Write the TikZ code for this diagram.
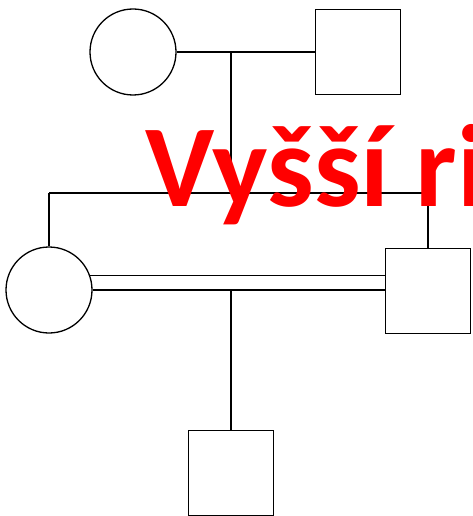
\documentclass[tikz,border=0pt]{standalone}
\usepackage{fontspec}
\newfontfamily\titlefont{Carlito}
\usepackage{tikz}

\begin{document}
\begin{tikzpicture}[x=1pt,y=1pt,
  female/.style={circle,draw,minimum size=86pt,inner sep=0pt},
  male/.style={rectangle,draw,minimum size=85pt,inner sep=0pt}]
\useasboundingbox (0,0) rectangle (472,-516);
\begin{scope}[line width=1.3pt]
\node[female] (GM) at (133,-52) {};
\node[male] (GF) at (358,-52) {};
\node[female] (M) at (49,-290) {};
\node[male] (F) at (428,-291) {};
\node[male] (C) at (231,-473) {};
\coordinate (U1) at (231,-52);
\coordinate (S) at (231,-193);
\coordinate (SL) at (49,-193);
\coordinate (SR) at (428,-193);
\coordinate (U2) at (231,-291);
\draw (GM) -- (GF);
\draw (U1) -- (S);
\draw (SL) -- (SR);
\draw (SL) -- (M);
\draw (SR) -- (F);
\draw (M.19) -- (F.west |- M.19);
\draw (M.east) -- (F.west |- M.east);
\draw (U2) -- (C);
\end{scope}
\node[anchor=base west,inner sep=0pt,text=red,font=\titlefont\bfseries\fontsize{117}{117}\selectfont] (title) at (145,-206) {Vyšší ri};
\end{tikzpicture}
\end{document}
